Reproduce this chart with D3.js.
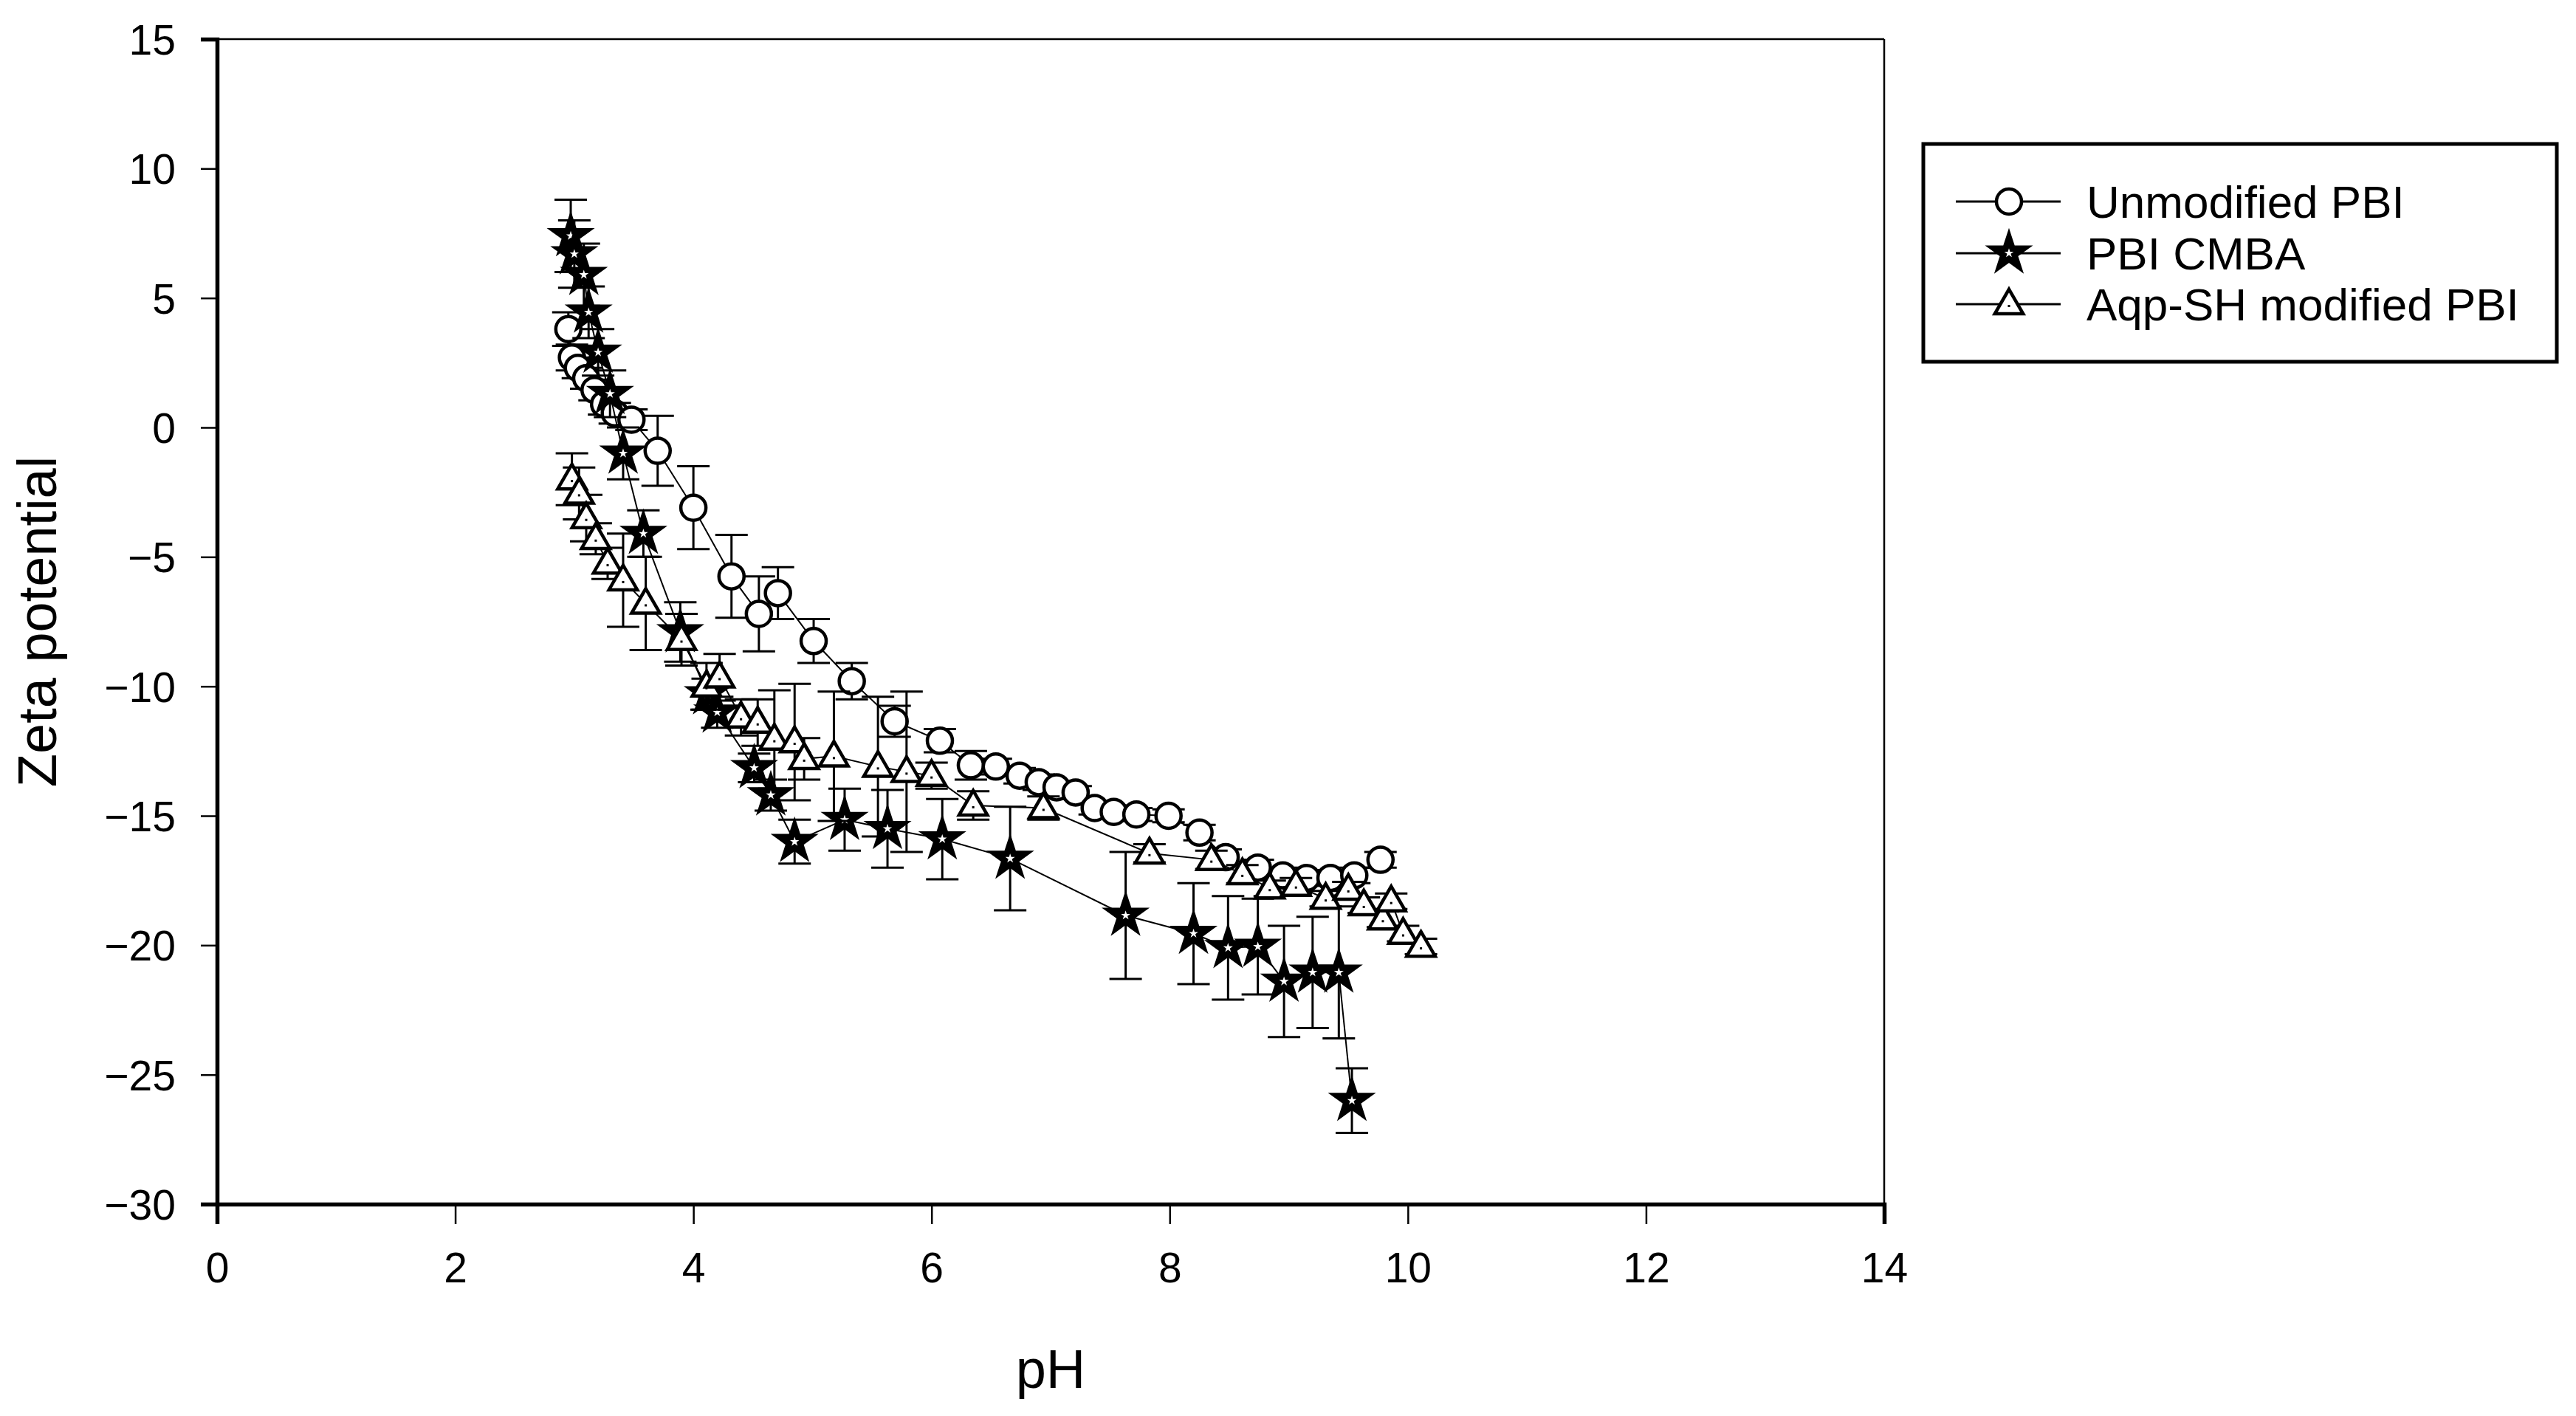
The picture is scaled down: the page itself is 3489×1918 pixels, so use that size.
<!DOCTYPE html>
<html>
<head>
<meta charset="utf-8">
<script src="https://cdn.jsdelivr.net/npm/d3@7"></script>
<style>
  body { margin: 0; background: #fff; }
  text { font-family: Arial, "Liberation Sans", sans-serif; fill: #000; }
</style>
</head>
<body>
<script>
// data
const unmodPH   = [2.95, 2.98, 3.03, 3.10, 3.17, 3.25, 3.34, 3.48, 3.70, 4.00, 4.32, 4.55, 4.71, 5.01, 5.33, 5.69, 6.07, 6.33, 6.54, 6.74, 6.90, 7.05, 7.21, 7.37, 7.53, 7.72, 7.99, 8.25, 8.47, 8.74, 8.95, 9.15, 9.35, 9.55, 9.77];
const unmodZeta = [3.8, 2.7, 2.3, 1.9, 1.45, 0.9, 0.55, 0.3, -0.9, -3.1, -5.75, -7.2, -6.4, -8.25, -9.8, -11.35, -12.1, -13.05, -13.1, -13.45, -13.7, -13.9, -14.1, -14.7, -14.85, -14.95, -15.0, -15.65, -16.6, -17.0, -17.3, -17.4, -17.4, -17.3, -16.7];
const unmodErr  = [0.65, 0.5, 0.4, 0.4, 0.4, 0.4, 0.4, 0.4, 1.35, 1.6, 1.6, 1.45, 1.0, 0.85, 0.7, 0.6, 0.45, 0.55, 0.3, 0.3, 0.3, 0.25, 0.25, 0.25, 0.25, 0.25, 0.25, 0.3, 0.3, 0.3, 0.3, 0.3, 0.3, 0.3, 0.3];

const cmbaPH   = [2.97, 3.00, 3.08, 3.12, 3.20, 3.30, 3.41, 3.58, 3.89, 4.12, 4.20, 4.51, 4.65, 4.85, 5.27, 5.63, 6.09, 6.66, 7.63, 8.20, 8.49, 8.74, 8.96, 9.20, 9.42, 9.53];
const cmbaZeta = [7.4, 6.7, 5.9, 4.45, 2.9, 1.3, -1.0, -4.1, -7.9, -10.3, -11.0, -13.15, -14.2, -16.0, -15.15, -15.5, -15.9, -16.65, -18.85, -19.55, -20.1, -20.05, -21.4, -21.05, -21.05, -26.0];
const cmbaErr  = [1.4, 1.3, 1.2, 1.0, 0.9, 0.9, 1.0, 0.9, 1.15, 0.6, 0.6, 0.55, 0.6, 0.85, 1.2, 1.5, 1.55, 2.0, 2.45, 1.95, 2.0, 1.85, 2.15, 2.15, 2.55, 1.25];

const aqpPH   = [2.98, 3.04, 3.10, 3.18, 3.28, 3.41, 3.60, 3.90, 4.11, 4.22, 4.40, 4.54, 4.68, 4.85, 4.93, 5.18, 5.55, 5.79, 6.00, 6.35, 6.94, 7.83, 8.35, 8.61, 8.84, 9.06, 9.31, 9.50, 9.63, 9.79, 9.86, 9.96, 10.11];
const aqpZeta = [-2.0, -2.55, -3.5, -4.3, -5.25, -5.9, -6.8, -8.2, -10.0, -9.65, -11.2, -11.4, -12.05, -12.15, -12.8, -12.7, -13.1, -13.3, -13.45, -14.6, -14.7, -16.45, -16.7, -17.25, -17.8, -17.7, -18.2, -17.85, -18.45, -19.0, -18.3, -19.55, -20.05];
const aqpErr  = [1.0, 1.0, 0.9, 0.6, 0.6, 1.8, 1.8, 1.0, 0.9, 0.9, 0.7, 0.9, 1.9, 2.25, 0.8, 2.5, 2.7, 3.1, 0.5, 0.55, 0.45, 0.35, 0.35, 0.35, 0.3, 0.3, 0.3, 0.3, 0.3, 0.3, 0.3, 0.3, 0.3];

const seriesNames = ["Unmodified PBI", "PBI CMBA", "Aqp-SH modified PBI"];
const xTicks = [0, 2, 4, 6, 8, 10, 12, 14];
const yTicks = [15, 10, 5, 0, -5, -10, -15, -20, -25, -30];

function main(){
    const width = 3489;
    const height = 1918;

    const svg = d3.select("body").append("svg")
        .attr("width", width)
        .attr("height", height);

    svg.append("rect").attr("width", width).attr("height", height).attr("fill", "#fff");

    const left = 294, right = 2552, top = 53, bottom = 1631;

    const x = d3.scaleLinear().domain([0, 14]).range([left, right]);
    const y = d3.scaleLinear().domain([-30, 15]).range([bottom, top]);

    // frame (top + right thin)
    svg.append("line").attr("x1", left).attr("x2", right).attr("y1", top).attr("y2", top)
        .attr("stroke", "#000").attr("stroke-width", 2.5);
    svg.append("line").attr("x1", right).attr("x2", right).attr("y1", top).attr("y2", bottom)
        .attr("stroke", "#000").attr("stroke-width", 2.5);

    const xAxis = svg.append("g")
        .attr("transform", `translate(0,${bottom})`)
        .call(d3.axisBottom(x).tickValues(xTicks).tickSize(27).tickPadding(38).tickFormat(d3.format("d")));
    const yAxis = svg.append("g")
        .attr("transform", `translate(${left},0)`)
        .call(d3.axisLeft(y).tickValues(yTicks).tickSize(22).tickPadding(34));

    [xAxis, yAxis].forEach(g => {
        g.select(".domain").attr("stroke-width", 5.5).attr("stroke", "#000");
        g.selectAll(".tick line").attr("stroke-width", 2.5).attr("stroke", "#000");
        g.selectAll(".tick text").attr("font-size", 57).attr("font-family", "Arial, 'Liberation Sans', sans-serif").attr("fill", "#000");
    });
    yAxis.selectAll(".tick text").attr("dy", "0.36em");
    xAxis.selectAll(".tick text").attr("dy", "0.72em");

    // axis titles
    svg.append("text")
        .attr("x", (left + right) / 2)
        .attr("y", 1880)
        .attr("text-anchor", "middle")
        .attr("font-size", 74)
        .text("pH");
    svg.append("text")
        .attr("transform", `translate(76,${(top + bottom) / 2}) rotate(-90)`)
        .attr("text-anchor", "middle")
        .attr("font-size", 74)
        .text("Zeta potential");

    const symStar = d3.symbol().type(d3.symbolStar).size(470);
    const symTri = d3.symbol().type(d3.symbolTriangle).size(640);

    const series = [
        {name: seriesNames[0], xs: unmodPH, ys: unmodZeta, es: unmodErr, shape: "circle"},
        {name: seriesNames[1], xs: cmbaPH, ys: cmbaZeta, es: cmbaErr, shape: "star"},
        {name: seriesNames[2], xs: aqpPH, ys: aqpZeta, es: aqpErr, shape: "triangle"}
    ];

    function drawMarker(g, shape, cx, cy){
        if(shape == "circle"){
            g.append("circle").attr("cx", cx).attr("cy", cy).attr("r", 17)
                .attr("fill", "#fff").attr("stroke", "#000").attr("stroke-width", 4.5);
        } else if(shape == "star"){
            g.append("path").attr("d", symStar).attr("transform", `translate(${cx},${cy})`)
                .attr("fill", "#fff").attr("stroke", "#000").attr("stroke-width", 8.5).attr("stroke-linejoin", "miter");
        } else {
            g.append("path").attr("d", symTri).attr("transform", `translate(${cx},${cy+2})`)
                .attr("fill", "#fff").attr("stroke", "#000").attr("stroke-width", 4.5);
            g.append("rect").attr("x", cx - 1.5).attr("y", cy + 1).attr("width", 3).attr("height", 3).attr("fill", "#000");
        }
    }

    const line = d3.line().x(d => x(d[0])).y(d => y(d[1]));

    series.forEach(s => {
        const g = svg.append("g");
        const pts = s.xs.map((v, i) => [v, s.ys[i], s.es[i]]);

        // error bars
        pts.forEach(p => {
            const cx = x(p[0]);
            const y1 = y(p[1] + p[2]), y2 = y(p[1] - p[2]);
            g.append("line").attr("x1", cx).attr("x2", cx).attr("y1", y1).attr("y2", y2)
                .attr("stroke", "#000").attr("stroke-width", 3);
            [y1, y2].forEach(yy => {
                g.append("line").attr("x1", cx - 22).attr("x2", cx + 22).attr("y1", yy).attr("y2", yy)
                    .attr("stroke", "#000").attr("stroke-width", 3);
            });
        });

        g.append("path").datum(pts).attr("d", line)
            .attr("fill", "none").attr("stroke", "#000").attr("stroke-width", 2);

        pts.forEach(p => drawMarker(g, s.shape, x(p[0]), y(p[1])));
    });

    // legend
    const lg = svg.append("g");
    lg.append("rect").attr("x", 2605).attr("y", 195).attr("width", 858).attr("height", 295)
        .attr("fill", "#fff").attr("stroke", "#000").attr("stroke-width", 5);
    const rowY = [273, 343, 412];
    series.forEach((s, i) => {
        lg.append("line").attr("x1", 2649).attr("x2", 2791).attr("y1", rowY[i]).attr("y2", rowY[i])
            .attr("stroke", "#000").attr("stroke-width", 3);
        drawMarker(lg, s.shape, 2721, rowY[i]);
        lg.append("text").attr("x", 2826).attr("y", rowY[i]).attr("dy", "0.36em")
            .attr("font-size", 62).text(s.name);
    });
}
main();
</script>
</body>
</html>
